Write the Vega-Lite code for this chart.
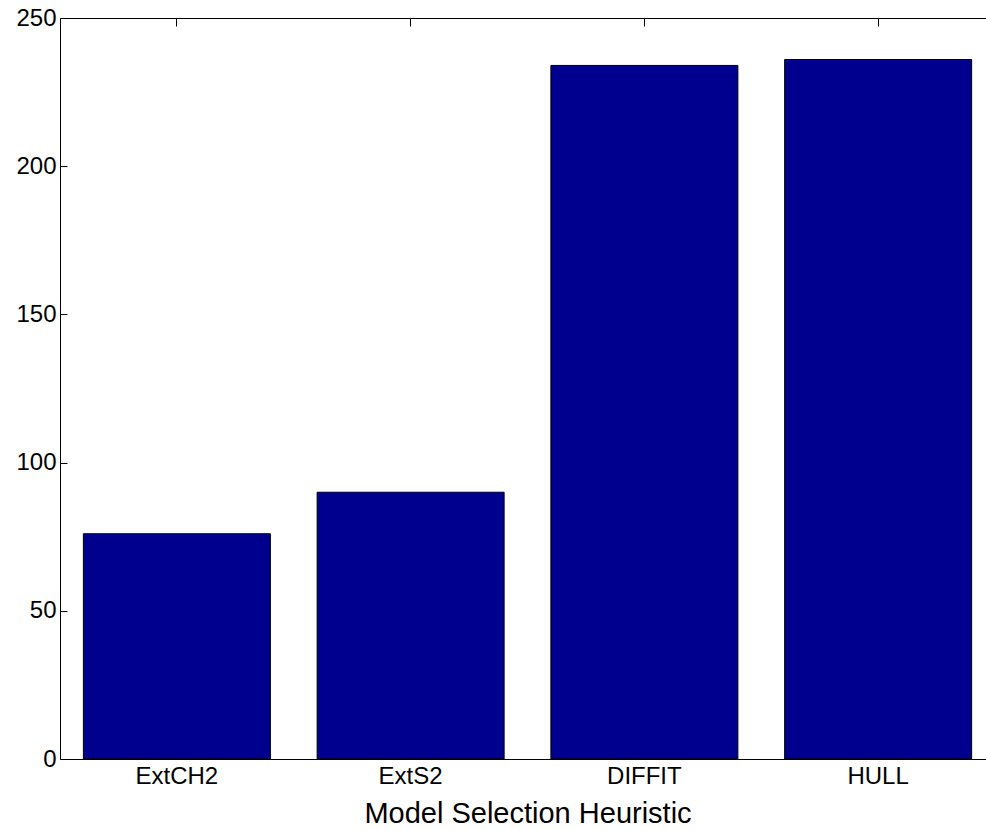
{
  "$schema": "https://vega.github.io/schema/vega-lite/v6.json",
  "autosize": {"type": "none"},
  "padding": {"left": 60, "top": 18, "right": 0, "bottom": 71},
  "width": 926,
  "height": 741,
  "background": "white",
  "data": {
    "values": [
      {"heuristic": "ExtCH2", "value": 76},
      {"heuristic": "ExtS2", "value": 90},
      {"heuristic": "DIFFIT", "value": 234},
      {"heuristic": "HULL", "value": 236}
    ]
  },
  "config": {
    "view": {"stroke": null},
    "axis": {
      "labelFont": "Liberation Sans",
      "titleFont": "Liberation Sans",
      "labelColor": "black",
      "titleColor": "black",
      "domainColor": "black",
      "tickColor": "black",
      "domainWidth": 1,
      "tickWidth": 1,
      "grid": false,
      "labelFontSize": 24,
      "titleFontSize": 29,
      "titleFontWeight": "normal"
    }
  },
  "layer": [
    {
      "mark": {"type": "bar", "color": "#00008F", "stroke": "black", "strokeWidth": 1},
      "encoding": {
        "x": {
          "field": "heuristic",
          "type": "nominal",
          "sort": null,
          "scale": {"range": [0, 935], "paddingInner": 0.2, "paddingOuter": 0.1},
          "axis": {"orient": "bottom", "title": "Model Selection Heuristic", "labelAngle": 0, "tickSize": -8, "labelPadding": 13, "titlePadding": 11}
        },
        "y": {
          "field": "value",
          "type": "quantitative",
          "scale": {"domain": [0, 250], "nice": false},
          "axis": {"orient": "left", "title": null, "values": [0, 50, 100, 150, 200, 250], "tickSize": -7, "labelPadding": 11, "labelBound": false, "labelFlush": false}
        }
      }
    },
    {
      "mark": {"type": "bar", "opacity": 0},
      "encoding": {
        "x": {
          "field": "heuristic",
          "type": "nominal",
          "sort": null,
          "axis": {"orient": "top", "title": null, "labels": false, "tickSize": -8}
        },
        "y": {
          "field": "value",
          "type": "quantitative"
        }
      }
    }
  ],
  "resolve": {"axis": {"x": "independent"}}
}
